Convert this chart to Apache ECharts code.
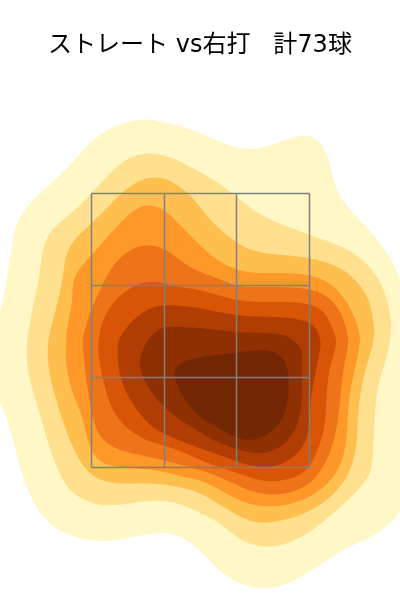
<!DOCTYPE html>
<html>
<head>
<meta charset="utf-8">
<script src="https://cdn.jsdelivr.net/npm/echarts@6/dist/echarts.min.js"></script>
<style>
  html, body { margin: 0; padding: 0; background: #fff; }
  #main { width: 400px; height: 600px; }
</style>
</head>
<body>
<div id="main"></div>
<script>
var titleText = 'ストレート vs右打   計73球';

// density bands, outermost first as [x, y]
var band1 = [[147,119],[167,123],[187,128],[200,133],[227,145],[253,150],[277,143],[303,135],[318,140],[328,157],[333,180],[343,202],[363,223],[383,247],[400,277],[412,330],[415,400],[412,480],[400,513],[373,537],[347,547],[317,567],[290,583],[267,589],[237,583],[217,568],[200,550],[183,538],[163,532],[127,538],[97,542],[63,533],[43,517],[30,495],[20,468],[12,435],[3,408],[-3,395],[-5,370],[-4,340],[0,313],[3,300],[8,273],[13,237],[20,217],[33,200],[53,182],[73,162],[90,143],[107,130],[127,122]];
var band2 = [[150,153],[170,157],[185,164],[200,172],[217,182],[237,197],[257,213],[283,225],[310,235],[343,247],[367,263],[383,287],[391,317],[390,345],[380,378],[375,405],[373,458],[368,478],[350,498],[323,522],[297,540],[267,548],[240,540],[220,523],[200,513],[183,505],[160,500],[133,503],[103,506],[80,498],[63,482],[50,448],[42,422],[32,388],[27,365],[27,340],[33,307],[40,273],[43,247],[53,228],[73,212],[90,195],[110,173],[130,157]];
var band3 = [[157,177],[173,182],[190,195],[200,207],[213,223],[237,243],[257,252],[283,255],[310,258],[340,267],[360,285],[370,303],[374,327],[373,345],[363,378],[358,412],[357,442],[350,472],[333,495],[307,513],[267,524],[243,518],[220,505],[200,493],[183,488],[153,483],[120,484],[92,477],[75,452],[63,422],[52,385],[48,362],[48,340],[55,313],[62,283],[65,260],[72,242],[90,225],[107,208],[123,192],[140,180]];
var band4 = [[152,205],[167,212],[180,225],[200,245],[217,260],[237,270],[257,273],[283,273],[310,275],[333,285],[350,307],[359,330],[360,345],[354,372],[348,405],[347,435],[342,462],[327,485],[300,502],[267,507],[243,502],[220,490],[200,480],[183,477],[153,469],[113,467],[92,455],[83,418],[72,392],[66,365],[66,345],[67,327],[73,300],[73,277],[90,257],[103,242],[120,223],[137,208]];
var band5 = [[150,245],[167,250],[183,263],[200,272],[217,278],[237,286],[257,287],[283,287],[310,289],[330,298],[343,317],[348,337],[348,345],[342,378],[339,412],[333,445],[317,478],[293,492],[267,495],[243,488],[220,477],[200,470],[163,460],[140,455],[113,448],[97,432],[91,408],[85,372],[83,345],[83,337],[90,313],[100,290],[110,270],[123,255],[137,247]];
var band6 = [[153,282],[163,283],[180,287],[200,290],[217,295],[237,300],[257,302],[283,302],[310,304],[325,313],[333,330],[337,345],[328,372],[326,412],[322,438],[310,467],[293,478],[267,482],[243,475],[220,467],[200,460],[183,452],[163,445],[140,438],[117,418],[107,395],[100,365],[98,345],[102,323],[110,307],[123,293],[140,283]];
var band7 = [[167,305],[180,306],[200,308],[217,312],[237,315],[257,317],[283,317],[310,322],[318,333],[321,345],[317,365],[310,402],[310,428],[300,452],[280,465],[260,468],[233,460],[200,448],[183,442],[163,433],[150,425],[133,405],[120,378],[117,345],[123,333],[133,320],[150,308]];
var band8 = [[163,327],[180,327],[200,328],[217,330],[237,332],[260,333],[283,334],[295,342],[302,350],[302,365],[302,398],[297,428],[280,448],[257,454],[233,448],[213,440],[200,432],[177,418],[157,400],[143,378],[139,358],[150,337]];
var band9 = [[200,357],[233,353],[260,350],[277,353],[287,365],[289,388],[285,415],[270,433],[250,441],[230,435],[210,423],[200,417],[193,410],[180,392],[173,372],[183,362]];
var bands = [band1, band2, band3, band4, band5, band6, band7, band8, band9];
var bandColors = ['#fff7c6', '#fee08f', '#febf4f', '#fe9929', '#ef7318', '#d75505', '#b03d03', '#8f3002', '#732705'];

// strike zone cell borders
var zoneX = [91.5, 164.5, 236.5, 309.5];
var zoneY = [193.5, 285.5, 377.5, 467.5];

var zoneLines = [];
zoneX.forEach(function (x) {
  zoneLines.push([x, zoneY[0]], [x, zoneY[3]], null);
});
zoneY.forEach(function (y) {
  zoneLines.push([zoneX[0], y], [zoneX[3], y], null);
});

// closed cubic b-spline, the 0.2 push stops the curve shrinking away from the points
function smoothRing(raw) {
  var n = raw.length;
  var pts = raw.map(function (p, i) {
    var a = raw[(i - 1 + n) % n], b = raw[(i + 1) % n];
    return [p[0] + 0.2 * (p[0] - (a[0] + b[0]) / 2), p[1] + 0.2 * (p[1] - (a[1] + b[1]) / 2)];
  });
  var out = [];
  for (var i = 0; i < n; i++) {
    var p0 = pts[(i - 1 + n) % n], p1 = pts[i], p2 = pts[(i + 1) % n], p3 = pts[(i + 2) % n];
    for (var k = 0; k < 8; k++) {
      var t = k / 8, t2 = t * t, t3 = t2 * t;
      var a = (1 - 3 * t + 3 * t2 - t3) / 6;
      var b = (4 - 6 * t2 + 3 * t3) / 6;
      var c = (1 + 3 * t + 3 * t2 - 3 * t3) / 6;
      var d = t3 / 6;
      out.push([a * p0[0] + b * p1[0] + c * p2[0] + d * p3[0], a * p0[1] + b * p1[1] + c * p2[1] + d * p3[1]]);
    }
  }
  return out;
}

var chart = echarts.init(document.getElementById('main'), null, { renderer: 'canvas' });
chart.setOption({
  animation: false,
  backgroundColor: '#fff',
  title: {
    text: titleText,
    left: 'center',
    top: 29,
    textStyle: {
      fontFamily: '"DejaVu Sans", "Noto Sans CJK JP", sans-serif',
      fontSize: 24,
      fontWeight: 'normal',
      color: '#000'
    }
  },
  grid: { left: 0, right: 0, top: 0, bottom: 0 },
  xAxis: { type: 'value', min: 0, max: 400, show: false },
  yAxis: { type: 'value', min: 0, max: 600, inverse: true, show: false },
  series: [
    {
      type: 'custom',
      coordinateSystem: 'cartesian2d',
      clip: true,
      data: bands.map(function (b, i) { return [i]; }),
      encode: { x: 0 },
      renderItem: function (params, api) {
        var i = params.dataIndex;
        return {
          type: 'polygon',
          shape: {
            points: smoothRing(bands[i]).map(function (p) { return api.coord(p); })
          },
          style: { fill: bandColors[i], stroke: null }
        };
      }
    },
    {
      type: 'line',
      data: zoneLines,
      symbol: 'none',
      connectNulls: false,
      z: 5,
      lineStyle: { color: '#808080', width: 1.5 }
    }
  ]
});
</script>
</body>
</html>
